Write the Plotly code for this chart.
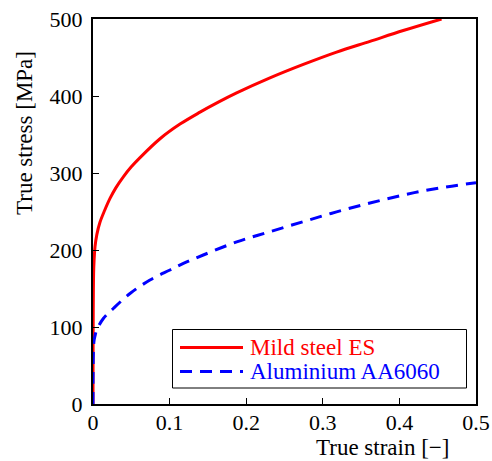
import plotly.graph_objects as go

# Mild steel ES (true strain [-], true stress [MPa])
steel_strain = [0.0, 0.0008, 0.0015, 0.0026, 0.0050, 0.0091, 0.0150, 0.0222, 0.0300,
                0.0396, 0.0500, 0.0614, 0.0875, 0.1136, 0.1397, 0.1636, 0.1875, 0.2310,
                0.2746, 0.3180, 0.3616, 0.4050, 0.4550]
steel_stress = [0.0, 170.0, 188.0, 204.0, 220.0, 236.0, 251.0, 267.0, 281.0,
                295.0, 308.0, 320.0, 344.5, 363.5, 379.0, 392.0, 404.0, 423.5,
                441.0, 457.0, 471.0, 485.0, 500.0]

# Aluminium AA6060
alu_strain = [0.0, 0.0011, 0.0025, 0.0048, 0.0135, 0.0265, 0.0483, 0.0744, 0.1005,
              0.1180, 0.1440, 0.1876, 0.2310, 0.2746, 0.3180, 0.3616, 0.4050,
              0.4487, 0.5000]
alu_stress = [0.0, 80.0, 88.0, 96.0, 111.0, 124.0, 143.5, 161.0, 174.0,
              182.5, 193.5, 210.5, 223.8, 236.8, 249.5, 261.0, 271.4,
              280.0, 287.4]

series_names = ["Mild steel ES", "Aluminium AA6060"]
series_colors = ["#ff0000", "#0000ff"]

x_ticks = [0, 0.1, 0.2, 0.3, 0.4, 0.5]
x_tick_labels = ["0", "0.1", "0.2", "0.3", "0.4", "0.5"]
y_ticks = [0, 100, 200, 300, 400, 500]
y_tick_labels = ["0", "100", "200", "300", "400", "500"]

FONT = "Liberation Serif"
W, H = 492, 461
ML, MR, MT, MB = 93, 16, 19, 57
PW, PH = W - ML - MR, H - MT - MB


def px_x(px):
    return (px - ML) / PW


def px_y(py):
    return (H - MB - py) / PH


fig = go.Figure()
fig.add_trace(go.Scatter(
    x=steel_strain, y=steel_stress, mode="lines", name=series_names[0],
    line=dict(color=series_colors[0], width=3, shape="spline", smoothing=1.0),
    showlegend=False,
))
fig.add_trace(go.Scatter(
    x=alu_strain, y=alu_stress, mode="lines", name=series_names[1],
    line=dict(color=series_colors[1], width=3, dash="12px,8px", shape="spline", smoothing=1.0),
    showlegend=False,
))

axis_common = dict(
    showgrid=False, zeroline=False, showline=True, linecolor="black", linewidth=2,
    mirror=True, ticks="inside", ticklen=6, tickcolor="black", tickwidth=1,
    tickfont=dict(family=FONT, size=22, color="black"), automargin=False,
)
fig.update_xaxes(range=[0, 0.5], tickvals=x_ticks, ticktext=x_tick_labels,
                 ticklabelstandoff=-2, **axis_common)
fig.update_yaxes(range=[0, 500], tickvals=y_ticks, ticktext=y_tick_labels,
                 ticklabelstandoff=4, **axis_common)

# legend drawn as box + sample lines + text
shapes = [
    dict(type="rect", xref="paper", yref="paper",
         x0=px_x(172.5), x1=px_x(466.5), y0=px_y(388), y1=px_y(329.5),
         line=dict(color="black", width=1), fillcolor="white", layer="above"),
    dict(type="line", xref="paper", yref="paper",
         x0=px_x(180), x1=px_x(243), y0=px_y(347.5), y1=px_y(347.5),
         line=dict(color=series_colors[0], width=3), layer="above"),
    dict(type="line", xref="paper", yref="paper",
         x0=px_x(180), x1=px_x(243), y0=px_y(371.5), y1=px_y(371.5),
         line=dict(color=series_colors[1], width=3, dash="12px,8px"), layer="above"),
]

annotations = [
    dict(text=series_names[0], x=px_x(248), y=px_y(347.5), xref="paper", yref="paper",
         xanchor="left", yanchor="middle", showarrow=False,
         font=dict(family=FONT, size=23, color=series_colors[0])),
    dict(text=series_names[1], x=px_x(248), y=px_y(371.5), xref="paper", yref="paper",
         xanchor="left", yanchor="middle", showarrow=False,
         font=dict(family=FONT, size=23, color=series_colors[1])),
    dict(text="True strain [−]", x=px_x(383), y=px_y(447.5), xref="paper", yref="paper",
         xanchor="center", yanchor="middle", showarrow=False,
         font=dict(family=FONT, size=23, color="black")),
    dict(text="True stress [MPa]", x=px_x(24), y=px_y(133), xref="paper", yref="paper",
         xanchor="center", yanchor="middle", textangle=-90, showarrow=False,
         font=dict(family=FONT, size=23, color="black")),
]

fig.update_layout(
    width=W, height=H,
    margin=dict(l=ML, r=MR, t=MT, b=MB, pad=0),
    plot_bgcolor="white", paper_bgcolor="white",
    font=dict(family=FONT, size=22, color="black"),
    showlegend=False,
    shapes=shapes,
    annotations=annotations,
)

fig.write_html("out.html", config={"displayModeBar": False},
               post_script="document.body.style.margin='0';")
